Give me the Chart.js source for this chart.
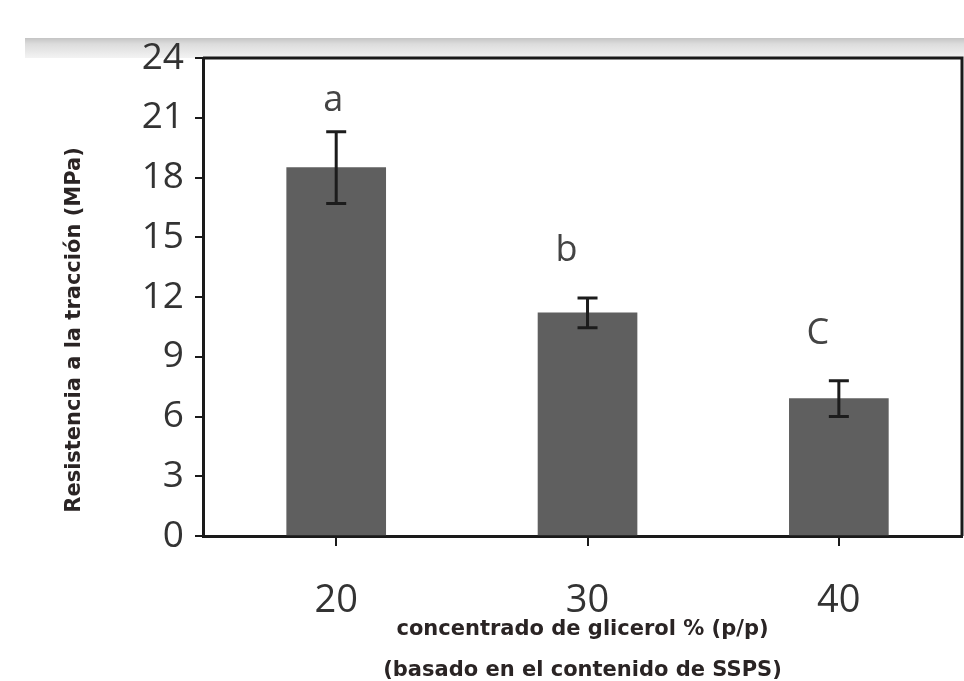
<!DOCTYPE html>
<html>
<head>
<meta charset="utf-8">
<script src="https://cdn.jsdelivr.net/npm/chart.js@4.4.1/dist/chart.umd.min.js"></script>
<style>
  html, body { margin: 0; padding: 0; background: #ffffff; }
  #wrap { position: relative; width: 964px; height: 681px; }
  canvas { display: block; }
</style>
</head>
<body>
<div id="wrap"><canvas id="chart" width="964" height="681"></canvas></div>
<script>
// Glycerol concentration (% w/w) and tensile strength results
const concentrations = [20, 30, 40];
const tensileStrength = [18.5, 11.2, 6.9];   // MPa, mean
const tensileError = [1.8, 0.75, 0.9];       // MPa, +/- deviation
const groupLetters = ['a', 'b', 'C'];
const yTicks = [0, 3, 6, 9, 12, 15, 18, 21, 24];
const yAxisTitle = 'Resistencia a la tracción (MPa)';
const xAxisTitle = ['concentrado de glicerol % (p/p)', '(basado en el contenido de SSPS)'];

const points = concentrations.map((c, i) => ({ x: c, y: tensileStrength[i] }));

// Light grey band across the top edge of the figure
const headerBand = {
  id: 'headerBand',
  beforeDraw(chart) {
    const ctx = chart.ctx;
    const top = chart.chartArea.top;
    const g = ctx.createLinearGradient(0, top - 20, 0, top);
    g.addColorStop(0, '#c4c4c4');
    g.addColorStop(0.3, '#dcdcdc');
    g.addColorStop(1, '#f3f3f3');
    ctx.save();
    ctx.fillStyle = g;
    ctx.fillRect(25, top - 20, chart.width - 25, 20);
    ctx.restore();
  }
};

// Frame around the plotting area (top and right edges) and the rotated y title
const plotFrame = {
  id: 'plotFrame',
  afterDatasetsDraw(chart) {
    const { ctx, chartArea: a } = chart;
    ctx.save();
    ctx.strokeStyle = '#1a1a1a';
    ctx.lineWidth = 3;
    ctx.beginPath();
    ctx.moveTo(a.left, a.top);
    ctx.lineTo(a.right, a.top);
    ctx.lineTo(a.right, a.bottom);
    ctx.stroke();

    ctx.translate(75, (a.top + a.bottom) / 2 + 33);
    ctx.rotate(-Math.PI / 2);
    ctx.fillStyle = '#2a2424';
    ctx.font = 'bold 21px "DejaVu Sans", sans-serif';
    ctx.textAlign = 'center';
    ctx.textBaseline = 'middle';
    ctx.fillText(yAxisTitle, 0, 0);
    ctx.restore();
  }
};

// Error bars and significance letters
const errorBars = {
  id: 'errorBars',
  afterDatasetsDraw(chart) {
    const ctx = chart.ctx;
    const xs = chart.scales.x, ys = chart.scales.y;
    ctx.save();
    concentrations.forEach((c, i) => {
      const x = xs.getPixelForValue(c);
      const yHi = ys.getPixelForValue(tensileStrength[i] + tensileError[i]);
      const yLo = ys.getPixelForValue(tensileStrength[i] - tensileError[i]);
      ctx.strokeStyle = '#1c1c1c';
      ctx.lineWidth = 3;
      ctx.beginPath();
      ctx.moveTo(x, yHi); ctx.lineTo(x, yLo);
      ctx.moveTo(x - 10, yHi); ctx.lineTo(x + 10, yHi);
      ctx.moveTo(x - 10, yLo); ctx.lineTo(x + 10, yLo);
      ctx.stroke();

      ctx.fillStyle = '#444444';
      ctx.font = '36px "Open Sans", sans-serif';
      ctx.textAlign = 'center';
      ctx.textBaseline = 'middle';
      const dx = i === 0 ? -3 : -21;
      ctx.fillText(groupLetters[i], x + dx, yHi - (i === 0 ? 31 : 47));
    });
    ctx.restore();
  }
};

new Chart(document.getElementById('chart'), {
  type: 'bar',
  data: {
    datasets: [{
      data: points,
      backgroundColor: '#5f5f5f',
      borderWidth: 0,
      barThickness: 99
    }]
  },
  plugins: [headerBand, plotFrame, errorBars],
  options: {
    responsive: false,
    animation: false,
    layout: { padding: { left: 0, top: 58, right: 2, bottom: 0 } },
    plugins: {
      legend: { display: false },
      tooltip: { enabled: false }
    },
    scales: {
      x: {
        type: 'linear',
        offset: false,
        min: 14.7,
        max: 44.9,
        afterBuildTicks(scale) {
          scale.ticks = concentrations.map(v => ({ value: v }));
        },
        afterFit(scale) { scale.height = 145; },
        border: { display: true, color: '#1a1a1a', width: 3 },
        grid: { offset: false, drawOnChartArea: false, drawTicks: true, tickLength: 10, color: '#1a1a1a', lineWidth: 2 },
        ticks: {
          color: '#333333',
          font: { family: 'Open Sans', size: 38 },
          padding: 32,
          maxRotation: 0,
          callback: v => String(v)
        },
        title: {
          display: true,
          text: xAxisTitle,
          color: '#2a2424',
          font: { family: 'DejaVu Sans', size: 21, weight: 'bold', lineHeight: '41px' },
          padding: { top: 0, bottom: -10 }
        }
      },
      y: {
        min: 0,
        max: 24,
        afterBuildTicks(scale) {
          scale.ticks = yTicks.map(v => ({ value: v }));
        },
        afterFit(scale) { scale.width = 203; },
        border: { display: true, color: '#1a1a1a', width: 3 },
        grid: { drawOnChartArea: false, drawTicks: true, tickLength: 8, color: '#1a1a1a', lineWidth: 2 },
        ticks: {
          color: '#333333',
          font: { family: 'Open Sans', size: 37 },
          padding: 11
        },
        title: { display: false }
      }
    }
  }
});
</script>
</body>
</html>
